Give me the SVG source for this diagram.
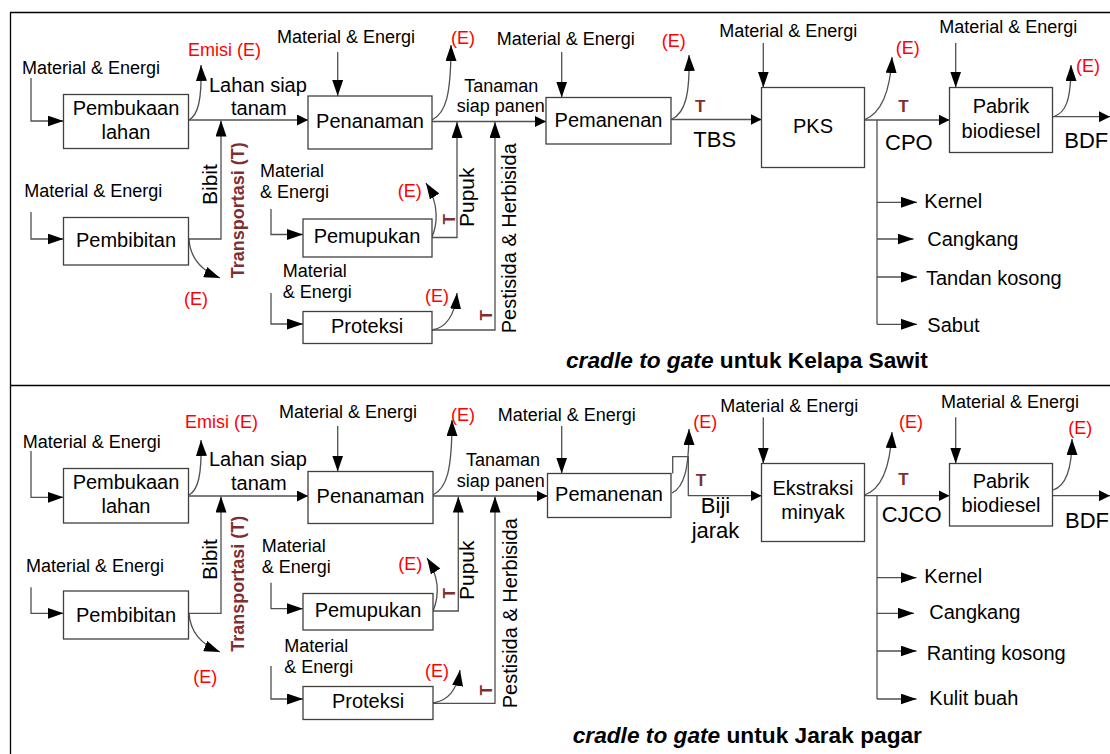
<svg xmlns="http://www.w3.org/2000/svg" width="1110" height="754" viewBox="0 0 1110 754">
<style>
text{font-family:"Liberation Sans",Arial,sans-serif;fill:#000}
.me{font-size:18px}
.bx{font-size:20px;text-anchor:middle}
.l20{font-size:20px}
.l18{font-size:18px}
.l22{font-size:22px}
.red{font-size:18px;fill:#ff0000}
.T{font-size:17px;font-weight:bold;fill:#7f2f2f}
.tr{font-size:18px;font-weight:bold;fill:#7f2f2f}
.vt{font-size:21px}
.cap{font-size:22.7px;font-weight:bold}
.node rect{fill:#fff;stroke:#404040;stroke-width:1.3}
.c path{fill:none;stroke:#505050;stroke-width:1.3}
.frame{fill:none;stroke:#000;stroke-width:1.3}
</style>
<defs>
<marker id="L" viewBox="0 0 16 11" refX="16" refY="5.5" markerWidth="16" markerHeight="11" markerUnits="userSpaceOnUse" orient="auto"><path d="M0,0 L16,5.5 L0,11 z" fill="#000"/></marker>
<marker id="S" viewBox="0 0 11 11" refX="11" refY="5.5" markerWidth="11" markerHeight="11" markerUnits="userSpaceOnUse" orient="auto"><path d="M0,0 L11,5.5 L0,11 z" fill="#000"/></marker>
</defs>
<rect width="1110" height="754" fill="#fff"/>
<path class="frame" d="M10.5,760 V12.5 H1115 M10.5,385.5 H1115"/>

<g class="c" id="connectors">
<!-- top section -->
<path d="M31,78 V121 H63.5" marker-end="url(#L)"/>
<path d="M31,212 V239 H63.5" marker-end="url(#L)"/>
<path d="M189,120 H308" marker-end="url(#S)"/>
<path d="M189,239 H221 V120.5" marker-end="url(#L)"/>
<path d="M337.7,52 V96" marker-end="url(#L)"/>
<path d="M271,209 V234.5 H303" marker-end="url(#L)"/>
<path d="M271,293 V324 H303" marker-end="url(#L)"/>
<path d="M432,121.5 H546" marker-end="url(#S)"/>
<path d="M432,237.5 H457 V122" marker-end="url(#L)"/>
<path d="M432,330 H495 V122" marker-end="url(#L)"/>
<path d="M561.7,52 V97.5" marker-end="url(#L)"/>
<path d="M671,119.5 H761.5" marker-end="url(#S)"/>
<path d="M763.3,43 V87.5" marker-end="url(#L)"/>
<path d="M864,120 H949.5" marker-end="url(#S)"/>
<path d="M877,120 V324.3"/>
<path d="M877,202.3 H917" marker-end="url(#L)"/>
<path d="M877,239 H913.5" marker-end="url(#L)"/>
<path d="M877,277 H917" marker-end="url(#L)"/>
<path d="M877,324.3 H917" marker-end="url(#L)"/>
<path d="M955.7,43 V87.5" marker-end="url(#L)"/>
<path d="M1052.5,116.7 H1110" marker-end="url(#S)"/>
<path d="M189,120 C198,115 202,100 201,65" marker-end="url(#L)"/>
<path d="M189,239 C190,256 200,270 220,278" marker-end="url(#L)"/>
<path d="M432,120 C446,113 451,95 451,45" marker-end="url(#L)"/>
<path d="M432,237 C437,225 440,205 426,183" marker-end="url(#L)"/>
<path d="M432,330 C446,328 455,315 457,293" marker-end="url(#L)"/>
<path d="M672,119 C685,113 690,95 689,55" marker-end="url(#L)"/>
<path d="M864,120 C880,114 890,95 892,57" marker-end="url(#L)"/>
<path d="M1053,117 C1066,113 1071,100 1071,65" marker-end="url(#L)"/>
<!-- bottom section -->
<path d="M31,451 V497.3 H63.5" marker-end="url(#L)"/>
<path d="M31,587.3 V613.3 H63.5" marker-end="url(#L)"/>
<path d="M189,496 H308" marker-end="url(#S)"/>
<path d="M189,613.3 H221 V496.5" marker-end="url(#L)"/>
<path d="M337.7,426 V471.5" marker-end="url(#L)"/>
<path d="M271,582.7 V608.7 H303" marker-end="url(#L)"/>
<path d="M271,666 V699 H303" marker-end="url(#L)"/>
<path d="M433,496 H547.5" marker-end="url(#S)"/>
<path d="M433,611 H458.3 V496.5" marker-end="url(#L)"/>
<path d="M433,703.3 H495 V496.5" marker-end="url(#L)"/>
<path d="M561.7,426 V473.5" marker-end="url(#L)"/>
<path d="M672.7,473.5 V456.7 H688.3 V495.7 H761.5" marker-end="url(#S)"/>
<path d="M763.3,417.3 V463.5" marker-end="url(#L)"/>
<path d="M864.3,495.7 H949.5" marker-end="url(#S)"/>
<path d="M877,495.7 V699"/>
<path d="M877,577.7 H916.5" marker-end="url(#L)"/>
<path d="M877,613.3 H914" marker-end="url(#L)"/>
<path d="M877,651 H916.5" marker-end="url(#L)"/>
<path d="M877,699 H916.5" marker-end="url(#L)"/>
<path d="M955.7,417.3 V463.5" marker-end="url(#L)"/>
<path d="M1052.5,495.7 H1110" marker-end="url(#S)"/>
<path d="M189,495 C198,490 202,475 201,440" marker-end="url(#L)"/>
<path d="M189,613 C190,630 200,644 220,652" marker-end="url(#L)"/>
<path d="M433,495 C447,488 452,470 452,420" marker-end="url(#L)"/>
<path d="M433,611 C438,599 441,580 427,558" marker-end="url(#L)"/>
<path d="M433,703 C447,701 457,690 460,670" marker-end="url(#L)"/>
<path d="M672,493 C684,487 689,470 689,429" marker-end="url(#L)"/>
<path d="M864.3,495 C880,490 890,470 892,432" marker-end="url(#L)"/>
<path d="M1053,490 C1066,486 1072,470 1072,439" marker-end="url(#L)"/>
</g>

<!-- ===== TOP: Kelapa Sawit ===== -->
<g id="t-pembukaan" class="node"><rect x="63.5" y="94.5" width="125" height="54"/><text class="bx" x="126" y="115">Pembukaan</text><text class="bx" x="126" y="139.3">lahan</text></g>
<g id="t-pembibitan" class="node"><rect x="63.5" y="217.5" width="125" height="47.5"/><text class="bx" x="126" y="246.7">Pembibitan</text></g>
<g id="t-penanaman" class="node"><rect x="308" y="96" width="124" height="53"/><text class="bx" x="370" y="128.3">Penanaman</text></g>
<g id="t-pemupukan" class="node"><rect x="303" y="219" width="129" height="38"/><text class="bx" x="367" y="243.3">Pemupukan</text></g>
<g id="t-proteksi" class="node"><rect x="303" y="311.5" width="129" height="32"/><text class="bx" x="367" y="333.3">Proteksi</text></g>
<g id="t-pemanenan" class="node"><rect x="546" y="97.5" width="125" height="46.5"/><text class="bx" x="608.5" y="126.7">Pemanenan</text></g>
<g id="t-pks" class="node"><rect x="761.5" y="87.5" width="103" height="80"/><text class="bx" x="813" y="133.3">PKS</text></g>
<g id="t-pabrik" class="node"><rect x="949.5" y="87.5" width="103" height="65"/><text class="bx" x="1001" y="113.3">Pabrik</text><text class="bx" x="1001" y="138.3">biodiesel</text></g>

<g id="t-labels">
<text class="me" x="22" y="74">Material &amp; Energi</text>
<text class="me" x="24.3" y="197.3">Material &amp; Energi</text>
<text class="me" x="277" y="43">Material &amp; Energi</text>
<text class="me" x="260" y="176.7">Material</text>
<text class="me" x="260" y="198.3">&amp; Energi</text>
<text class="me" x="282.7" y="276.7">Material</text>
<text class="me" x="282.7" y="298.3">&amp; Energi</text>
<text class="me" x="496.7" y="45">Material &amp; Energi</text>
<text class="me" x="719.3" y="36.7">Material &amp; Energi</text>
<text class="me" x="939.3" y="33.3">Material &amp; Energi</text>
<text class="red" x="188" y="56">Emisi (E)</text>
<text class="red" x="184" y="305">(E)</text>
<text class="red" x="451" y="44">(E)</text>
<text class="red" x="397.7" y="196.7">(E)</text>
<text class="red" x="425" y="301.7">(E)</text>
<text class="red" x="661.7" y="46.7">(E)</text>
<text class="red" x="895.7" y="54.3">(E)</text>
<text class="red" x="1076" y="71.7">(E)</text>
<text class="l20" x="209" y="92">Lahan siap</text>
<text class="l20" x="231" y="115">tanam</text>
<text class="l18" x="464.3" y="91.7">Tanaman</text>
<text class="l18" x="456.7" y="111.7">siap panen</text>
<text class="vt" transform="translate(217,205) rotate(-90)">Bibit</text>
<text class="tr" transform="translate(244,278.3) rotate(-90)">Transportasi (T)</text>
<text class="vt" transform="translate(473.5,227) rotate(-90)">Pupuk</text>
<text class="l20" transform="translate(516,333.3) rotate(-90)">Pestisida &amp; Herbisida</text>
<text class="T" transform="translate(455,224.5) rotate(-90)">T</text>
<text class="T" transform="translate(491.7,320.5) rotate(-90)">T</text>
<text class="T" x="695" y="111.7">T</text>
<text class="T" x="898.3" y="111.7">T</text>
<text class="l22" x="693.3" y="146.7">TBS</text>
<text class="l22" x="885" y="150">CPO</text>
<text class="l22" x="1064.3" y="148.3">BDF</text>
<text class="l20" x="924.3" y="208.3">Kernel</text>
<text class="l20" x="927.3" y="245.7">Cangkang</text>
<text class="l20" x="926" y="285">Tandan kosong</text>
<text class="l20" x="927.3" y="331.7">Sabut</text>
<text class="cap" x="566" y="368"><tspan font-style="italic">cradle to gate</tspan> untuk Kelapa Sawit</text>
</g>

<!-- ===== BOTTOM: Jarak pagar ===== -->
<g id="b-pembukaan" class="node"><rect x="63.5" y="468.5" width="125" height="54.5"/><text class="bx" x="126" y="489.3">Pembukaan</text><text class="bx" x="126" y="513.3">lahan</text></g>
<g id="b-pembibitan" class="node"><rect x="63.5" y="591" width="125" height="48"/><text class="bx" x="126" y="621.7">Pembibitan</text></g>
<g id="b-penanaman" class="node"><rect x="308" y="471.5" width="125" height="52"/><text class="bx" x="370.5" y="502.7">Penanaman</text></g>
<g id="b-pemupukan" class="node"><rect x="303" y="593.5" width="130" height="36.5"/><text class="bx" x="368" y="616.7">Pemupukan</text></g>
<g id="b-proteksi" class="node"><rect x="303" y="686.5" width="130" height="33"/><text class="bx" x="368" y="708.3">Proteksi</text></g>
<g id="b-pemanenan" class="node"><rect x="547.5" y="473.5" width="123.5" height="44"/><text class="bx" x="609" y="500.7">Pemanenan</text></g>
<g id="b-ekstraksi" class="node"><rect x="761.5" y="463.5" width="103" height="78"/><text class="bx" x="813" y="495">Ekstraksi</text><text class="bx" x="813" y="519">minyak</text></g>
<g id="b-pabrik" class="node"><rect x="949.5" y="463.5" width="103" height="62.5"/><text class="bx" x="1001" y="488.3">Pabrik</text><text class="bx" x="1001" y="511.7">biodiesel</text></g>

<g id="b-labels">
<text class="me" x="22.7" y="448.3">Material &amp; Energi</text>
<text class="me" x="26" y="571.7">Material &amp; Energi</text>
<text class="me" x="279" y="418.3">Material &amp; Energi</text>
<text class="me" x="261.7" y="551.7">Material</text>
<text class="me" x="261.7" y="573.3">&amp; Energi</text>
<text class="me" x="284.3" y="651.7">Material</text>
<text class="me" x="284.3" y="673.3">&amp; Energi</text>
<text class="me" x="497.7" y="420.7">Material &amp; Energi</text>
<text class="me" x="720.3" y="411.7">Material &amp; Energi</text>
<text class="me" x="941" y="408.3">Material &amp; Energi</text>
<text class="red" x="185" y="427.7">Emisi (E)</text>
<text class="red" x="193.3" y="683.3">(E)</text>
<text class="red" x="451" y="420.7">(E)</text>
<text class="red" x="398.3" y="570">(E)</text>
<text class="red" x="425" y="676.7">(E)</text>
<text class="red" x="693.3" y="428.3">(E)</text>
<text class="red" x="899" y="428.3">(E)</text>
<text class="red" x="1068.3" y="434">(E)</text>
<text class="l20" x="209" y="466">Lahan siap</text>
<text class="l20" x="231" y="490">tanam</text>
<text class="l18" x="466" y="465.7">Tanaman</text>
<text class="l18" x="456.7" y="486.7">siap panen</text>
<text class="vt" transform="translate(217,580) rotate(-90)">Bibit</text>
<text class="tr" transform="translate(244,651.7) rotate(-90)">Transportasi (T)</text>
<text class="vt" transform="translate(474,600) rotate(-90)">Pupuk</text>
<text class="l20" transform="translate(517,708.3) rotate(-90)">Pestisida &amp; Herbisida</text>
<text class="T" transform="translate(455,598.5) rotate(-90)">T</text>
<text class="T" transform="translate(491.7,695.5) rotate(-90)">T</text>
<text class="T" x="695.7" y="485.7">T</text>
<text class="T" x="898.3" y="485">T</text>
<text class="l22" x="715.5" y="513.3" text-anchor="middle">Biji</text>
<text class="l22" x="715.5" y="538.3" text-anchor="middle">jarak</text>
<text class="l22" x="881.7" y="521.7">CJCO</text>
<text class="l22" x="1065" y="528.3">BDF</text>
<text class="l20" x="924.3" y="583.3">Kernel</text>
<text class="l20" x="929.3" y="619">Cangkang</text>
<text class="l20" x="926.7" y="660">Ranting kosong</text>
<text class="l20" x="929.3" y="705">Kulit buah</text>
<text class="cap" x="572.7" y="743.3"><tspan font-style="italic">cradle to gate</tspan> untuk Jarak pagar</text>
</g>
</svg>
